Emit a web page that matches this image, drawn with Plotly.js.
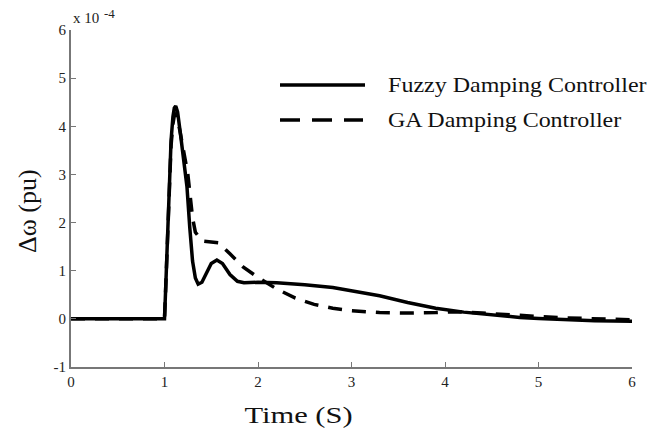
<!DOCTYPE html>
<html>
<head>
<meta charset="utf-8">
<script src="https://cdn.plot.ly/plotly-3.0.1.min.js"></script>
<style>
html,body{margin:0;padding:0;background:#fff;}
#chart{width:652px;height:434px;}
</style>
</head>
<body>
<div id="chart"></div>
<script>
// Time (s) and Δω (×1e-4 pu)
var fuzzyT = [0, 1.0, 1.012, 1.03, 1.05, 1.07, 1.09, 1.105, 1.12, 1.14, 1.17, 1.2, 1.24, 1.27, 1.3, 1.33, 1.36, 1.4, 1.45, 1.5, 1.56, 1.62, 1.7, 1.78, 1.85, 2.0, 2.2, 2.5, 2.8, 3.0, 3.3, 3.6, 3.9, 4.2, 4.5, 4.8, 5.0, 5.3, 5.6, 6.0];
var fuzzyY = [0, 0, 0.6, 1.7, 2.7, 3.7, 4.2, 4.38, 4.42, 4.3, 3.85, 3.4, 2.75, 1.9, 1.2, 0.85, 0.72, 0.76, 0.95, 1.15, 1.22, 1.15, 0.92, 0.78, 0.75, 0.76, 0.75, 0.71, 0.65, 0.58, 0.48, 0.34, 0.22, 0.14, 0.08, 0.03, 0.01, -0.02, -0.04, -0.05];
var gaT = [0, 1.0, 1.012, 1.03, 1.05, 1.07, 1.09, 1.105, 1.12, 1.14, 1.17, 1.21, 1.25, 1.3, 1.33, 1.4, 1.5, 1.58, 1.7, 1.84, 2.0, 2.2, 2.4, 2.6, 2.8, 3.0, 3.3, 3.6, 3.9, 4.1, 4.4, 4.7, 5.0, 5.3, 5.6, 6.0];
var gaY = [0, 0, 0.6, 1.7, 2.65, 3.6, 4.05, 4.22, 4.25, 4.15, 3.85, 3.45, 3.0, 2.1, 1.8, 1.62, 1.6, 1.58, 1.35, 1.08, 0.86, 0.62, 0.43, 0.3, 0.22, 0.17, 0.13, 0.12, 0.13, 0.15, 0.12, 0.08, 0.05, 0.02, 0.0, -0.02];
var seriesNames = ["Fuzzy Damping Controller", "GA Damping Controller"];
var xTicks = [0, 1, 2, 3, 4, 5, 6];
var yTicks = [-1, 0, 1, 2, 3, 4, 5, 6];
var xTitle = "Time (S)";
var yTitle = "Δω (pu)";

var serif = "Liberation Serif, Times New Roman, serif";
var traces = [
  {x: fuzzyT, y: fuzzyY, mode: "lines", name: seriesNames[0], line: {color: "#000", width: 3.5}},
  {x: gaT, y: gaY, mode: "lines", name: seriesNames[1], line: {color: "#000", width: 3.5, dash: "14px,10px"}}
];
var W = 561, H = 337; // plot area size in px
function px(x) { return (x - 71) / W; }
function py(y) { return (367 - y) / H; }
var layout = {
  width: 652, height: 434,
  margin: {l: 71, r: 20, t: 30, b: 67},
  paper_bgcolor: "#fff", plot_bgcolor: "#fff",
  showlegend: false,
  font: {family: serif, color: "#222", size: 15},
  xaxis: {
    range: [0, 6], tickvals: xTicks, ticktext: xTicks.map(String),
    showgrid: false, zeroline: false, showline: true, linecolor: "#777", linewidth: 2,
    ticks: "inside", ticklen: 5, tickcolor: "#777", tickwidth: 1,
    tickfont: {family: serif, size: 15, color: "#222"}
  },
  yaxis: {
    range: [-1, 6], tickvals: yTicks, ticktext: yTicks.map(String),
    showgrid: false, zeroline: false, showline: true, linecolor: "#777", linewidth: 2,
    ticks: "inside", ticklen: 5, tickcolor: "#777", tickwidth: 1,
    tickfont: {family: serif, size: 15, color: "#222"}
  },
  shapes: [
    {type: "line", xref: "paper", yref: "paper", x0: px(280), x1: px(365), y0: py(85), y1: py(85), line: {color: "#000", width: 3.5}},
    {type: "line", xref: "paper", yref: "paper", x0: px(280), x1: px(363), y0: py(120), y1: py(120), line: {color: "#000", width: 3.5, dash: "20px,12px"}}
  ],
  annotations: [
    {xref: "paper", yref: "paper", x: px(386), y: py(86), xanchor: "left", yanchor: "middle", showarrow: false, text: seriesNames[0], font: {family: serif, size: 20, color: "#111"}},
    {xref: "paper", yref: "paper", x: px(386), y: py(120), xanchor: "left", yanchor: "middle", showarrow: false, text: seriesNames[1], font: {family: serif, size: 20, color: "#111"}},
    {xref: "paper", yref: "paper", x: px(71), y: py(18), xanchor: "left", yanchor: "middle", showarrow: false, text: "x 10", font: {family: serif, size: 15, color: "#222"}},
    {xref: "paper", yref: "paper", x: px(102), y: py(14), xanchor: "left", yanchor: "middle", showarrow: false, text: "-4", font: {family: serif, size: 13, color: "#222"}},
    {xref: "paper", yref: "paper", x: px(298), y: py(415), xanchor: "center", yanchor: "middle", showarrow: false, text: xTitle, font: {family: serif, size: 24, color: "#111"}},
    {xref: "paper", yref: "paper", x: px(27), y: py(211), xanchor: "center", yanchor: "middle", showarrow: false, textangle: -90, text: yTitle, font: {family: serif, size: 26, color: "#111"}}
  ]
};
function stretch(idx, sx, origin) {
  var t = document.querySelector('.annotation[data-index="' + idx + '"] text.annotation-text');
  if (!t) return;
  t.style.transformBox = "fill-box";
  t.style.transformOrigin = origin;
  t.style.transform = "scaleX(" + sx + ")";
}
Plotly.newPlot("chart", traces, layout, {staticPlot: true, displayModeBar: false}).then(function () {
  stretch(0, 1.2, "left center");
  stretch(1, 1.2, "left center");
  stretch(4, 1.27, "center center");
});
</script>
</body>
</html>
